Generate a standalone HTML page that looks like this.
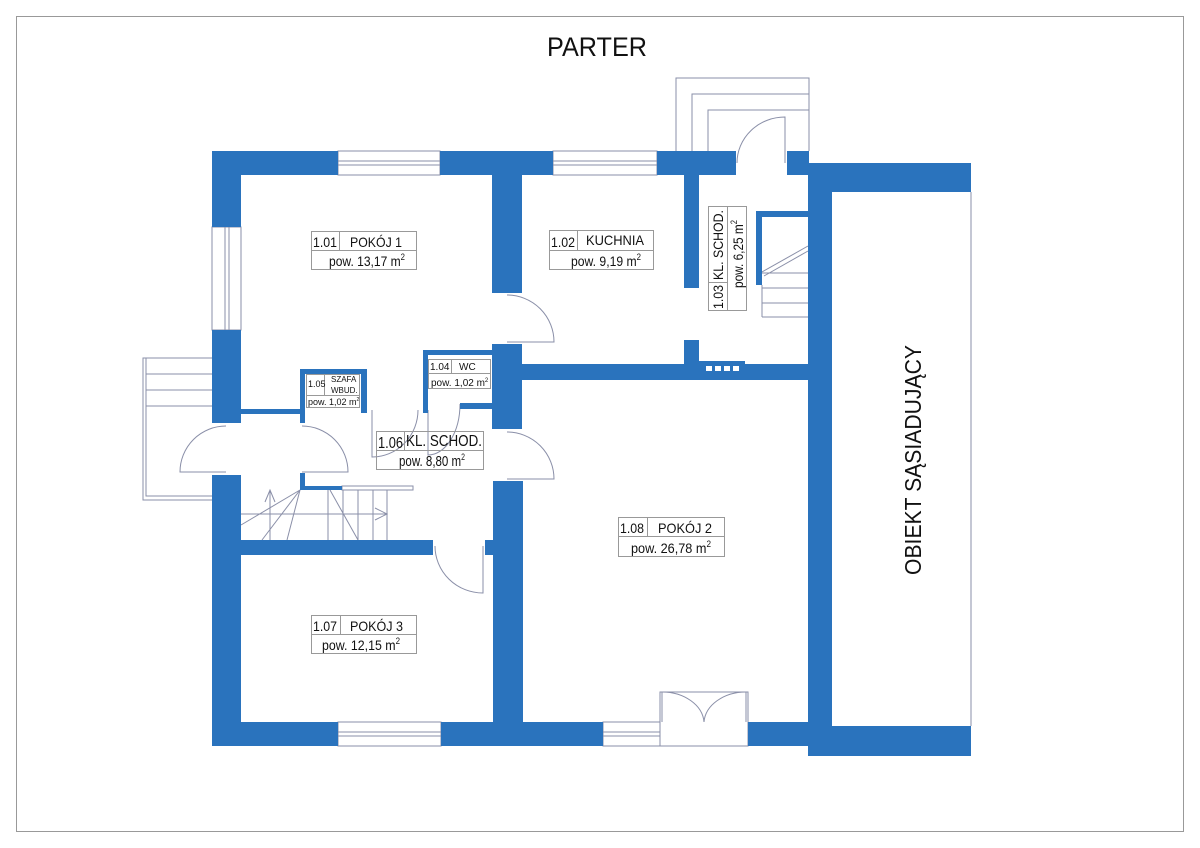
<!DOCTYPE html>
<html><head><meta charset="utf-8"><style>
html,body{margin:0;padding:0;background:#fff;}
svg{display:block;}
text{font-family:"Liberation Sans",sans-serif;fill:#111;}
</style></head><body>
<svg width="1200" height="848" viewBox="0 0 1200 848" xmlns="http://www.w3.org/2000/svg">
<rect x="16.5" y="16.5" width="1167" height="815" fill="none" stroke="#999" stroke-width="1"/>
<text x="597" y="56" font-size="27" text-anchor="middle" textLength="100" lengthAdjust="spacingAndGlyphs">PARTER</text>

<g fill="none" stroke="#8a8fa8" stroke-width="1">
  <polyline points="676,151 676,78 809,78 809,151"/>
  <polyline points="692,151 692,94 809,94"/>
  <polyline points="708,151 708,110 809,110"/>
  <polyline points="212,358 143,358 143,500 212,500"/>
  <polyline points="146,358 146,496 212,496"/>
  <line x1="146" y1="374" x2="212" y2="374"/>
  <line x1="146" y1="390" x2="212" y2="390"/>
  <line x1="146" y1="406" x2="212" y2="406"/>
  <rect x="338" y="151" width="102" height="24"/>
  <line x1="338" y1="161" x2="440" y2="161"/><line x1="338" y1="165" x2="440" y2="165"/>
  <rect x="553" y="151" width="104" height="24"/>
  <line x1="553" y1="161" x2="657" y2="161"/><line x1="553" y1="165" x2="657" y2="165"/>
  <rect x="212" y="227" width="29" height="103"/>
  <line x1="225" y1="227" x2="225" y2="330"/><line x1="229" y1="227" x2="229" y2="330"/>
  <rect x="338" y="722" width="103" height="24"/>
  <line x1="338" y1="732" x2="441" y2="732"/><line x1="338" y1="736" x2="441" y2="736"/>
  <rect x="603" y="722" width="57" height="24"/>
  <line x1="603" y1="732" x2="660" y2="732"/><line x1="603" y1="736" x2="660" y2="736"/>
  <rect x="660" y="692" width="88" height="54"/>
  <line x1="662" y1="692" x2="662" y2="722"/>
  <line x1="746" y1="692" x2="746" y2="722"/>
  <path d="M662,692 A42,32 0 0 1 704,722"/>
  <path d="M746,692 A42,32 0 0 0 704,722"/>
  <path d="M785,163 L785,117 A48,46 0 0 0 737,163"/>
  <path d="M507,295 A47,47 0 0 1 554,342 L507,342"/>
  <path d="M507,432 A47,47 0 0 1 554,479 L507,479"/>
  <path d="M226,426 A46,46 0 0 0 180,472 L226,472"/>
  <path d="M302,426 A46,46 0 0 1 348,472 L302,472"/>
  <path d="M372,410 L372,457 A46,47 0 0 0 418,410"/>
  <path d="M428,410 L428,455 A32,51 0 0 0 460,404"/>
  <path d="M435,546 A48,47 0 0 0 483,593 L483,546"/>
  <rect x="342" y="486" width="71" height="4"/>
  <line x1="241" y1="514" x2="387" y2="514"/>
  <line x1="270" y1="490" x2="270" y2="540"/>
  <line x1="328" y1="490" x2="328" y2="540"/>
  <line x1="343" y1="490" x2="343" y2="540"/>
  <line x1="358" y1="490" x2="358" y2="540"/>
  <line x1="373" y1="490" x2="373" y2="540"/>
  <line x1="387" y1="490" x2="387" y2="540"/>
  <line x1="300" y1="490" x2="241" y2="525"/>
  <line x1="300" y1="490" x2="262" y2="540"/>
  <line x1="300" y1="490" x2="287" y2="540"/>
  <line x1="330" y1="490" x2="358" y2="540"/>
  <polyline points="265,502 270,490 275,502"/>
  <polyline points="375,508 387,514 375,520"/>
  <line x1="762" y1="273" x2="808" y2="273"/>
  <line x1="762" y1="288" x2="808" y2="288"/>
  <line x1="762" y1="303" x2="808" y2="303"/>
  <line x1="762" y1="317" x2="808" y2="317"/>
  <line x1="762" y1="285" x2="762" y2="317"/>
  <line x1="762" y1="272" x2="808" y2="246"/>
  <line x1="764" y1="276" x2="808" y2="251"/>
  <line x1="971" y1="192" x2="971" y2="726"/>
</g>

<g fill="#2a73bd">
  <rect x="212" y="151" width="126" height="24"/>
  <rect x="440" y="151" width="113" height="24"/>
  <rect x="657" y="151" width="79" height="24"/>
  <rect x="787" y="151" width="22" height="24"/>
  <rect x="808" y="163" width="163" height="29"/>
  <rect x="808" y="163" width="24" height="593"/>
  <rect x="808" y="726" width="163" height="30"/>
  <rect x="212" y="151" width="29" height="76"/>
  <rect x="212" y="330" width="29" height="93"/>
  <rect x="212" y="475" width="29" height="271"/>
  <rect x="212" y="722" width="126" height="24"/>
  <rect x="441" y="722" width="162" height="24"/>
  <rect x="748" y="722" width="60" height="24"/>
  <rect x="492" y="175" width="30" height="118"/>
  <rect x="492" y="344" width="30" height="85"/>
  <rect x="493" y="481" width="30" height="241"/>
  <rect x="522" y="364" width="286" height="16"/>
  <rect x="684" y="340" width="15" height="24"/>
  <rect x="699" y="361" width="46" height="4"/>
  <rect x="684" y="175" width="15" height="113"/>
  <rect x="756" y="211" width="52" height="6"/>
  <rect x="756" y="211" width="6" height="74"/>
  <rect x="241" y="409" width="59" height="5"/>
  <rect x="300" y="369" width="5" height="54"/>
  <rect x="300" y="369" width="67" height="5"/>
  <rect x="361" y="369" width="6" height="44"/>
  <rect x="423" y="350" width="69" height="5"/>
  <rect x="423" y="350" width="5" height="63"/>
  <rect x="460" y="403" width="32" height="6"/>
  <rect x="300" y="473" width="5" height="17"/>
  <rect x="300" y="486" width="42" height="4"/>
  <rect x="241" y="540" width="192" height="15"/>
  <rect x="485" y="540" width="8" height="15"/>
</g>
<g fill="#fff"><rect x="706" y="366" width="6" height="5"/><rect x="715" y="366" width="6" height="5"/><rect x="724" y="366" width="6" height="5"/><rect x="733" y="366" width="6" height="5"/></g>

<g fill="none" stroke="#999" stroke-width="1">
  <rect x="311.5" y="231.5" width="105" height="38"/><line x1="311" y1="250.5" x2="417" y2="250.5"/><line x1="339.5" y1="231" x2="339.5" y2="250"/>
  <rect x="549.5" y="230.5" width="104" height="39"/><line x1="549" y1="250.5" x2="654" y2="250.5"/><line x1="577.5" y1="230" x2="577.5" y2="250"/>
  <rect x="708.5" y="206.5" width="38" height="104"/><line x1="727.5" y1="206" x2="727.5" y2="311"/><line x1="708" y1="282.5" x2="727" y2="282.5"/>
  <rect x="428.5" y="359.5" width="62" height="29"/><line x1="428" y1="373.5" x2="491" y2="373.5"/><line x1="451.5" y1="359" x2="451.5" y2="373"/>
  <rect x="306.5" y="374.5" width="53" height="33"/><line x1="306" y1="395.5" x2="360" y2="395.5"/><line x1="324.5" y1="374" x2="324.5" y2="395"/>
  <rect x="376.5" y="431.5" width="107" height="38"/><line x1="376" y1="450.5" x2="484" y2="450.5"/><line x1="404.5" y1="431" x2="404.5" y2="450"/>
  <rect x="311.5" y="615.5" width="105" height="38"/><line x1="311" y1="634.5" x2="417" y2="634.5"/><line x1="340.5" y1="615" x2="340.5" y2="634"/>
  <rect x="618.5" y="517.5" width="106" height="39"/><line x1="618" y1="536.5" x2="725" y2="536.5"/><line x1="647.5" y1="517" x2="647.5" y2="536"/>
</g>
<g font-size="14" lengthAdjust="spacingAndGlyphs">
  <text x="313" y="247" textLength="24" lengthAdjust="spacingAndGlyphs">1.01</text><text x="350" y="247" textLength="52" lengthAdjust="spacingAndGlyphs">POKÓJ 1</text>
  <text x="329" y="266" textLength="76" lengthAdjust="spacingAndGlyphs">pow. 13,17 m<tspan font-size="9" dy="-6">2</tspan></text>
  <text x="551" y="247" textLength="24" lengthAdjust="spacingAndGlyphs">1.02</text><text x="586" y="245" textLength="58" lengthAdjust="spacingAndGlyphs">KUCHNIA</text>
  <text x="571" y="266" textLength="70" lengthAdjust="spacingAndGlyphs">pow. 9,19 m<tspan font-size="9" dy="-6">2</tspan></text>
  <text x="313" y="631" textLength="24" lengthAdjust="spacingAndGlyphs">1.07</text><text x="350" y="631" textLength="53" lengthAdjust="spacingAndGlyphs">POKÓJ 3</text>
  <text x="322" y="650" textLength="78" lengthAdjust="spacingAndGlyphs">pow. 12,15 m<tspan font-size="9" dy="-6">2</tspan></text>
  <text x="620" y="533" textLength="24" lengthAdjust="spacingAndGlyphs">1.08</text><text x="658" y="533" textLength="54" lengthAdjust="spacingAndGlyphs">POKÓJ 2</text>
  <text x="631" y="553" textLength="80" lengthAdjust="spacingAndGlyphs">pow. 26,78 m<tspan font-size="9" dy="-6">2</tspan></text>
  <text x="378" y="448" font-size="16" textLength="25" lengthAdjust="spacingAndGlyphs">1.06</text><text x="406" y="446" font-size="16" textLength="76" lengthAdjust="spacingAndGlyphs">KL. SCHOD.</text>
  <text x="399" y="466" font-size="15" textLength="66" lengthAdjust="spacingAndGlyphs">pow. 8,80 m<tspan font-size="9" dy="-6">2</tspan></text>
  <g transform="translate(723,309) rotate(-90)"><text x="0" y="0" textLength="24" lengthAdjust="spacingAndGlyphs">1.03</text></g>
  <g transform="translate(723,280) rotate(-90)"><text x="0" y="0" textLength="70" lengthAdjust="spacingAndGlyphs">KL. SCHOD.</text></g>
  <g transform="translate(743,288) rotate(-90)"><text x="0" y="0" textLength="68" lengthAdjust="spacingAndGlyphs">pow. 6,25 m<tspan font-size="9" dy="-6">2</tspan></text></g>
</g>
<g font-size="10">
  <text x="430" y="370">1.04</text><text x="459" y="370">WC</text>
  <text x="431" y="386">pow. 1,02 m<tspan font-size="6" dy="-4">2</tspan></text>
  <text x="308" y="387" font-size="9">1.05</text>
  <text x="331" y="382" font-size="8">SZAFA</text><text x="331" y="393" font-size="8">WBUD.</text>
  <text x="308" y="405" font-size="9">pow. 1,02 m<tspan font-size="5" dy="-4">2</tspan></text>
</g>
<g transform="translate(921,575) rotate(-90)"><text x="0" y="0" font-size="23" textLength="230" lengthAdjust="spacingAndGlyphs">OBIEKT SĄSIADUJĄCY</text></g>
</svg>
</body></html>
